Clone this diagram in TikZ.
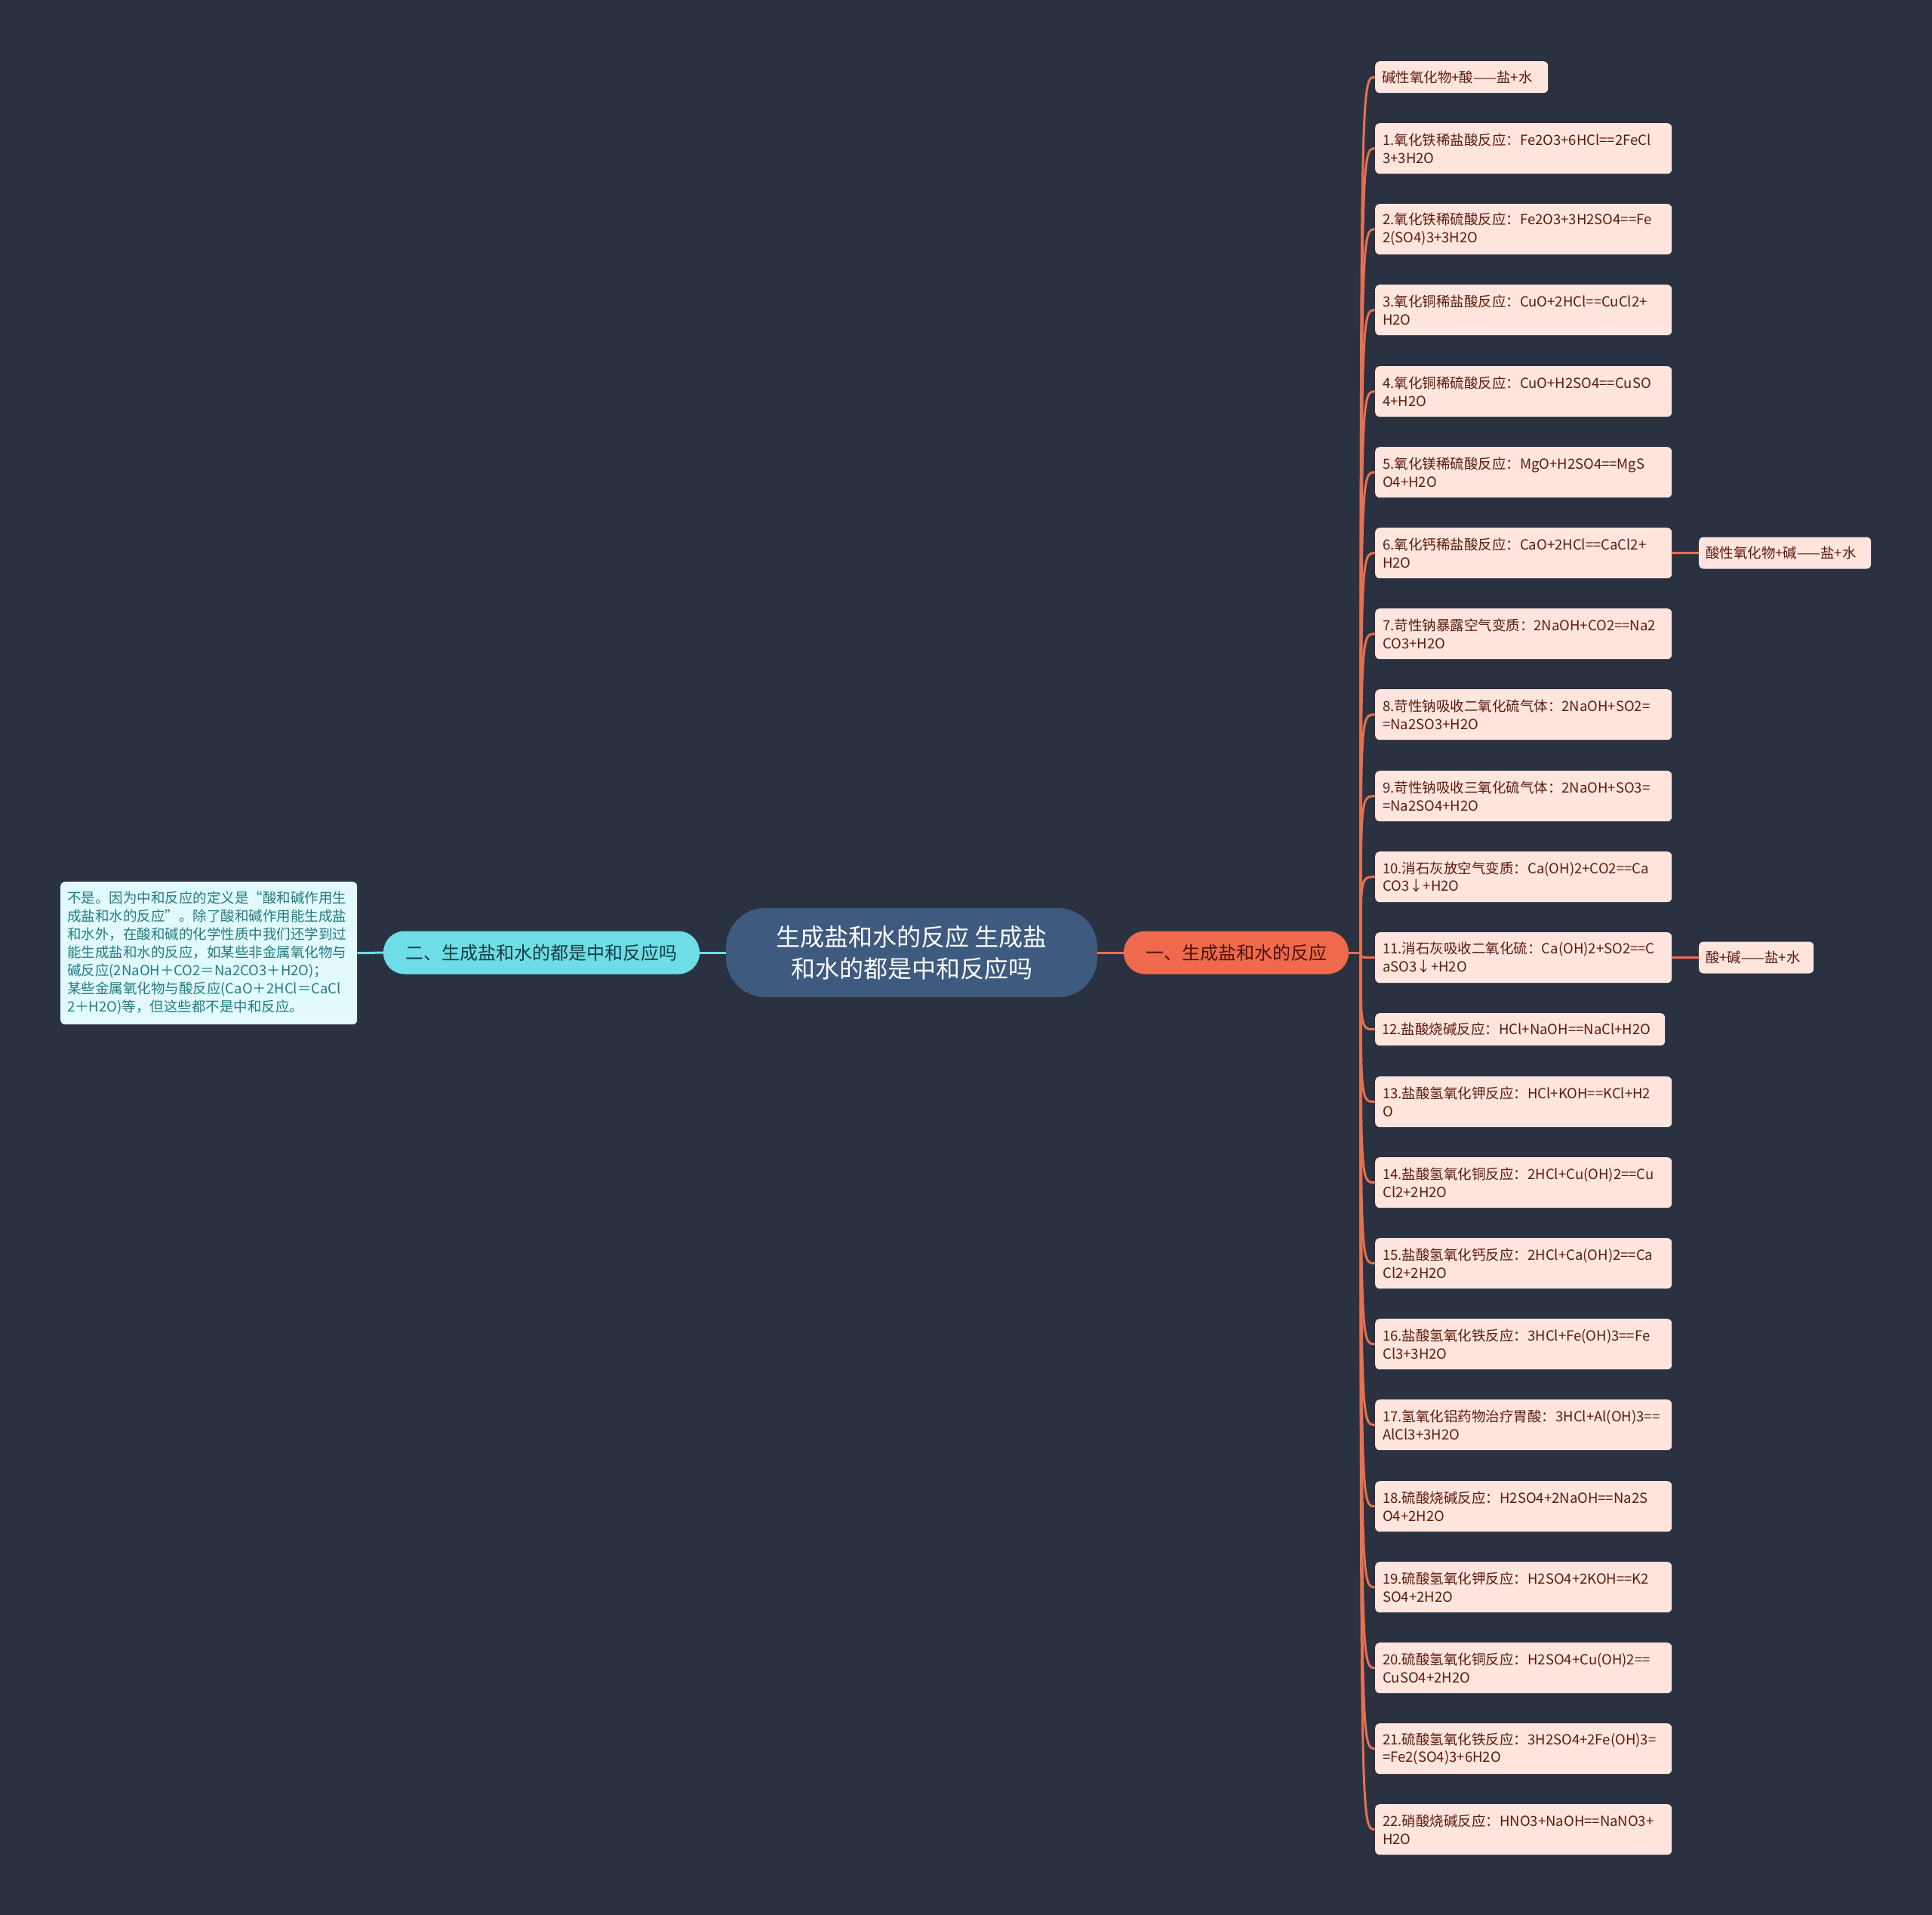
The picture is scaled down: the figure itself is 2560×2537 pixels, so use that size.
\documentclass[tikz,border=0pt]{standalone}
\usepackage{fontspec}
\newfontfamily\cjk{Noto Sans CJK SC}
\definecolor{bg}{HTML}{2A3141}
\definecolor{peach}{HTML}{FFE5DD}
\definecolor{browntext}{HTML}{5C1A0E}
\definecolor{oline}{HTML}{E8704F}
\definecolor{ofill}{HTML}{EF6A4C}
\definecolor{otext}{HTML}{4A1208}
\definecolor{navy}{HTML}{3E5A7F}
\definecolor{cyanfill}{HTML}{6EDDE5}
\definecolor{cyantext}{HTML}{163C44}
\definecolor{lcyan}{HTML}{E2FAFB}
\definecolor{tealtext}{HTML}{227C82}
\tikzset{
  pbox/.style={fill=peach, text=browntext, rounded corners=6pt,
    font=\cjk\fontsize{18.5}{23.5}\selectfont, align=left, text width=373pt,
    inner xsep=10pt, inner ysep=0pt, minimum height=67pt, anchor=north west},
  sbox/.style={fill=peach, text=browntext, rounded corners=6pt,
    font=\cjk\fontsize{18.5}{23.5}\selectfont, inner xsep=9pt, inner ysep=0pt,
    align=left, minimum height=42pt},
  branch/.style={draw=oline, line width=3pt},
  cline/.style={draw=cyanfill, line width=3pt},
}
\begin{document}
\begin{tikzpicture}[x=1pt,y=-1pt]
\fill[bg] (0,0) rectangle (2560,2537);
\useasboundingbox (0,0) rectangle (2560,2537);

% central
\node[fill=navy, rounded corners=52pt, minimum width=492pt, minimum height=118pt,
  align=center, text=white, font=\cjk\fontsize{32}{42}\selectfont, inner sep=0pt]
  (central) at (1208,1262) {生成盐和水的反应 生成盐\\和水的都是中和反应吗};
% orange main branch
\node[fill=ofill, rounded corners=28pt, minimum width=298pt, minimum height=57pt,
  text=otext, font=\cjk\fontsize{24}{30}\selectfont, inner sep=0pt]
  (orange) at (1638,1262) {一、生成盐和水的反应};
% cyan main branch
\node[fill=cyanfill, rounded corners=28pt, minimum width=419pt, minimum height=57pt,
  text=cyantext, font=\cjk\fontsize{24}{30}\selectfont, inner sep=0pt]
  (cyan) at (717.5,1262) {二、生成盐和水的都是中和反应吗};
% left text box
\node[fill=lcyan, text=tealtext, rounded corners=6pt, anchor=north west,
  font=\cjk\fontsize{18.5}{24}\selectfont, align=left, text width=375pt,
  inner xsep=9pt, inner ysep=0pt, minimum height=189pt]
  (answer) at (80,1168) {不是。因为中和反应的定义是“酸和碱作用生\\
成盐和水的反应”。除了酸和碱作用能生成盐\\
和水外，在酸和碱的化学性质中我们还学到过\\
能生成盐和水的反应，如某些非金属氧化物与\\
碱反应(2NaOH＋CO2＝Na2CO3＋H2O)；\\
某些金属氧化物与酸反应(CaO＋2HCl＝CaCl\\
2＋H2O)等，但这些都不是中和反应。};

% right children
\node[sbox, anchor=north west, text width=211pt] (b0) at (1822,81) {碱性氧化物+酸——盐+水};
\node[pbox] (b1) at (1822,163) {1.氧化铁稀盐酸反应：Fe2O3+6HCl==2FeCl\\3+3H2O};
\node[pbox] (b2) at (1822,270) {2.氧化铁稀硫酸反应：Fe2O3+3H2SO4==Fe\\2(SO4)3+3H2O};
\node[pbox] (b3) at (1822,377) {3.氧化铜稀盐酸反应：CuO+2HCl==CuCl2+\\H2O};
\node[pbox] (b4) at (1822,485) {4.氧化铜稀硫酸反应：CuO+H2SO4==CuSO\\4+H2O};
\node[pbox] (b5) at (1822,592) {5.氧化镁稀硫酸反应：MgO+H2SO4==MgS\\O4+H2O};
\node[pbox] (b6) at (1822,699) {6.氧化钙稀盐酸反应：CaO+2HCl==CaCl2+\\H2O};
\node[pbox] (b7) at (1822,806) {7.苛性钠暴露空气变质：2NaOH+CO2==Na2\\CO3+H2O};
\node[pbox] (b8) at (1822,913) {8.苛性钠吸收二氧化硫气体：2NaOH+SO2=\\=Na2SO3+H2O};
\node[pbox] (b9) at (1822,1021) {9.苛性钠吸收三氧化硫气体：2NaOH+SO3=\\=Na2SO4+H2O};
\node[pbox] (b10) at (1822,1128) {10.消石灰放空气变质：Ca(OH)2+CO2==Ca\\CO3↓+H2O};
\node[pbox] (b11) at (1822,1235) {11.消石灰吸收二氧化硫：Ca(OH)2+SO2==C\\aSO3↓+H2O};
\node[sbox, anchor=north west, text width=366pt, minimum height=43pt] (b12) at (1822,1342) {12.盐酸烧碱反应：HCl+NaOH==NaCl+H2O};
\node[pbox] (b13) at (1822,1426) {13.盐酸氢氧化钾反应：HCl+KOH==KCl+H2\\O};
\node[pbox] (b14) at (1822,1533) {14.盐酸氢氧化铜反应：2HCl+Cu(OH)2==Cu\\Cl2+2H2O};
\node[pbox] (b15) at (1822,1640) {15.盐酸氢氧化钙反应：2HCl+Ca(OH)2==Ca\\Cl2+2H2O};
\node[pbox] (b16) at (1822,1747) {16.盐酸氢氧化铁反应：3HCl+Fe(OH)3==Fe\\Cl3+3H2O};
\node[pbox] (b17) at (1822,1854) {17.氢氧化铝药物治疗胃酸：3HCl+Al(OH)3==\\AlCl3+3H2O};
\node[pbox] (b18) at (1822,1962) {18.硫酸烧碱反应：H2SO4+2NaOH==Na2S\\O4+2H2O};
\node[pbox] (b19) at (1822,2069) {19.硫酸氢氧化钾反应：H2SO4+2KOH==K2\\SO4+2H2O};
\node[pbox] (b20) at (1822,2176) {20.硫酸氢氧化铜反应：H2SO4+Cu(OH)2==\\CuSO4+2H2O};
\node[pbox] (b21) at (1822,2283) {21.硫酸氢氧化铁反应：3H2SO4+2Fe(OH)3=\\=Fe2(SO4)3+6H2O};
\node[pbox] (b22) at (1822,2390) {22.硝酸烧碱反应：HNO3+NaOH==NaNO3+\\H2O};

% side nodes
\node[sbox, anchor=west, text width=210pt] (s1) at (2251,732.5) {酸性氧化物+碱——盐+水};
\node[sbox, anchor=west, text width=134pt] (s2) at (2251,1268.5) {酸+碱——盐+水};

% connectors
\coordinate (J) at (1803,1262);
\draw[cline] (answer.east) -- (cyan.west);
\draw[cline] (cyan.east) -- (central.west);
\draw[branch] (central.east) -- (orange.west);
\draw[branch] (orange.east) -- (J);
\foreach \b in {b0,b1,b2,b3,b4,b5,b6,b7,b8,b9,b10,b11,b12,b13,b14,b15,b16,b17,b18,b19,b20,b21,b22}
  \draw[branch] (J) .. controls (J |- \b.west) .. (\b.west);
\draw[branch] (b6.east) -- (s1.west);
\draw[branch] (b11.east) -- (s2.west);
\end{tikzpicture}
\end{document}
